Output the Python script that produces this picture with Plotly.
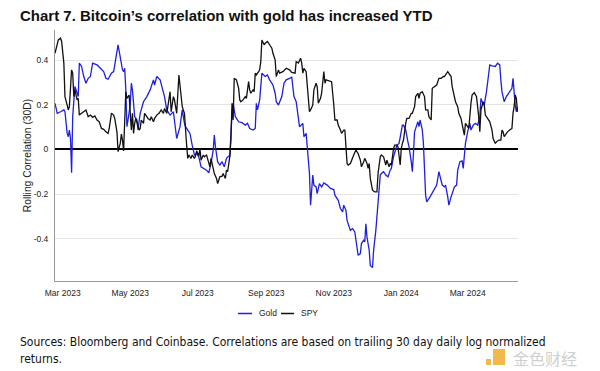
import pandas as pd
import plotly.graph_objects as go

base_date = "2023-03-01"

gold_day = [-7, -5, -2, 1, 2, 4, 5, 6, 7, 8, 9, 11, 13, 14, 15, 17, 19, 21, 23, 25, 27, 31, 34, 37, 39, 41, 44, 46, 50, 52,
            54, 55, 56, 57, 58, 59, 61, 62, 63, 65, 67, 68, 70, 73, 76, 79, 82, 83, 85, 88, 90, 92, 94, 97, 100, 102, 103,
            106, 108, 110, 111, 113, 115, 117, 119, 121, 123, 125, 127, 130, 132, 134, 136, 137, 138, 140, 142, 144, 146,
            148, 150, 151, 153, 154, 156, 157, 159, 162, 165, 167, 169, 172, 174, 175, 176, 178, 180, 183, 185, 187, 190,
            192, 193, 195, 198, 200, 202, 205, 207, 209, 211, 212, 214, 217, 218, 220, 221, 223, 224, 226, 227, 229, 230,
            232, 234, 236, 239, 242, 245, 246, 249, 251, 253, 254, 256, 257, 260, 262, 264, 267, 269, 270, 272, 273, 274,
            275, 277, 278, 280, 281, 283, 284, 286, 287, 288, 290, 292, 294, 296, 297, 299, 301, 302, 304, 305, 307, 308,
            310, 312, 313, 315, 316, 317, 318, 320, 321, 322, 323, 325, 326, 328, 329, 332, 335, 338, 340, 342, 343, 345,
            346, 348, 349, 351, 354, 356, 357, 359, 361, 362, 363, 364, 366, 368, 369, 371, 373, 375, 377, 378, 379, 381,
            383, 385, 386, 388, 391, 393, 395, 396, 397, 399, 401, 404, 406, 407, 408, 409, 410, 411]
gold_corr = [0.207, 0.162, 0.169, 0.177, 0.169, 0.072, 0.057, 0.087, 0.049, -0.105, 0.147, 0.282, 0.252, 0.237, 0.387,
             0.372, 0.327, 0.297, 0.319, 0.327, 0.387, 0.379, 0.364, 0.349, 0.319, 0.315, 0.342, 0.349, 0.469, 0.416,
             0.357, 0.349, 0.364, 0.267, 0.102, 0.132, 0.199, 0.297, 0.267, 0.147, 0.132, 0.087, 0.162, 0.214, 0.237,
             0.267, 0.312, 0.289, 0.327, 0.312, 0.274, 0.237, 0.177, 0.154, 0.169, 0.102, 0.049, 0.102, 0.177, 0.117,
             0.102, 0.087, 0.072, 0.019, -0.025, -0.018, -0.033, -0.078, -0.085, -0.093, -0.105, -0.063, -0.003, 0.064,
             0.012, -0.055, -0.070, -0.055, -0.078, -0.040, -0.030, -0.030, 0.162, 0.207, 0.147, 0.139, 0.124, 0.120,
             0.109, 0.117, 0.094, 0.087, 0.094, 0.207, 0.177, 0.222, 0.342, 0.327, 0.334, 0.312, 0.289, 0.252, 0.214,
             0.199, 0.237, 0.297, 0.312, 0.319, 0.324, 0.237, 0.214, 0.177, 0.102, 0.117, 0.057, 0.072, -0.003, -0.108,
             -0.250, -0.115, -0.160, -0.168, -0.198, -0.153, -0.168, -0.150, -0.160, -0.175, -0.180, -0.205, -0.228,
             -0.265, -0.280, -0.250, -0.273, -0.318, -0.363, -0.355, -0.370, -0.475, -0.467, -0.422, -0.407, -0.415,
             -0.333, -0.393, -0.452, -0.520, -0.530, -0.452, -0.363, -0.295, -0.183, -0.115, -0.108, -0.100, -0.115,
             -0.123, -0.093, -0.085, -0.033, 0.012, 0.019, 0.027, 0.057, 0.109, 0.109, 0.087, 0.034, 0.012, -0.055,
             -0.100, -0.018, 0.079, 0.109, 0.124, 0.102, 0.132, 0.087, 0.027, -0.205, -0.235, -0.213, -0.183, -0.160,
             -0.100, -0.138, -0.160, -0.168, -0.160, -0.213, -0.250, -0.213, -0.168, -0.160, -0.093, -0.055, -0.051,
             -0.085, -0.033, 0.027, 0.079, 0.117, 0.087, 0.109, 0.117, 0.109, 0.147, 0.229, 0.214, 0.199, 0.259, 0.342,
             0.379, 0.375, 0.372, 0.387, 0.379, 0.312, 0.259, 0.214, 0.237, 0.259, 0.274, 0.319, 0.237, 0.199, 0.169,
             0.192]

spy_day = [-7, -5, -4, -2, -1, 1, 2, 4, 5, 6, 8, 9, 10, 11, 13, 14, 15, 17, 19, 21, 23, 25, 27, 29, 31, 33, 35, 37, 39,
           41, 42, 44, 46, 47, 49, 50, 52, 53, 54, 55, 57, 58, 60, 61, 62, 63, 64, 65, 66, 67, 69, 70, 71, 73, 74, 76,
           77, 79, 80, 82, 83, 85, 87, 89, 91, 92, 94, 95, 97, 98, 100, 101, 103, 105, 106, 107, 108, 110, 111, 112, 113,
           114, 116, 117, 119, 120, 121, 123, 124, 125, 127, 128, 130, 132, 133, 134, 136, 137, 139, 140, 141, 142, 144,
           145, 147, 148, 149, 151, 152, 153, 154, 155, 157, 159, 160, 161, 163, 165, 166, 168, 169, 170, 172, 173, 174,
           175, 177, 178, 179, 180, 182, 183, 185, 187, 189, 190, 192, 193, 195, 196, 199, 202, 205, 207, 210, 211, 213,
           215, 216, 217, 218, 220, 221, 223, 224, 226, 227, 229, 230, 231, 233, 234, 236, 237, 238, 240, 243, 245, 246,
           248, 249, 251, 252, 254, 255, 257, 258, 260, 261, 263, 265, 267, 269, 270, 272, 273, 275, 276, 277, 278, 280,
           282, 284, 285, 287, 288, 290, 292, 293, 295, 296, 297, 299, 300, 302, 303, 305, 306, 307, 308, 310, 311, 313,
           315, 316, 318, 319, 321, 322, 323, 325, 327, 328, 330, 331, 333, 334, 336, 338, 340, 342, 344, 345, 348, 349,
           351, 352, 354, 355, 357, 358, 360, 361, 363, 364, 366, 367, 369, 370, 372, 374, 376, 377, 378, 380, 381, 382,
           384, 386, 388, 389, 391, 392, 394, 396, 397, 398, 399, 401, 402, 404, 406, 407, 408, 409, 410, 411]
spy_corr = [0.431, 0.476, 0.491, 0.499, 0.484, 0.387, 0.237, 0.199, 0.177, 0.192, 0.357, 0.342, 0.237, 0.267, 0.222,
            0.229, 0.154, 0.162, 0.169, 0.177, 0.147, 0.154, 0.144, 0.150, 0.132, 0.124, 0.094, 0.090, 0.079, 0.072,
            0.094, 0.162, 0.154, 0.139, 0.079, -0.010, 0.027, 0.069, 0.042, -0.007, 0.259, 0.229, 0.244, 0.184, 0.087,
            0.162, 0.072, 0.117, 0.139, 0.124, 0.087, 0.094, 0.132, 0.117, 0.162, 0.147, 0.139, 0.132, 0.147, 0.124,
            0.139, 0.154, 0.162, 0.177, 0.162, 0.184, 0.162, 0.192, 0.259, 0.169, 0.237, 0.222, 0.162, 0.334, 0.282,
            0.244, 0.192, 0.162, 0.057, 0.019, -0.040, -0.025, -0.040, -0.025, -0.040, -0.030, -0.006, -0.030, 0.004,
            -0.048, -0.025, -0.033, -0.025, -0.055, -0.078, -0.040, -0.093, -0.108, -0.130, -0.153, -0.138, -0.123,
            -0.120, -0.108, -0.130, -0.093, -0.100, -0.033, 0.042, 0.207, 0.132, 0.319, 0.312, 0.274, 0.222, 0.214,
            0.222, 0.237, 0.229, 0.304, 0.267, 0.252, 0.267, 0.259, 0.342, 0.334, 0.349, 0.357, 0.394, 0.491, 0.469,
            0.476, 0.484, 0.469, 0.454, 0.431, 0.401, 0.327, 0.357, 0.342, 0.349, 0.364, 0.357, 0.345, 0.342, 0.394,
            0.387, 0.409, 0.387, 0.342, 0.364, 0.349, 0.282, 0.169, 0.177, 0.199, 0.267, 0.297, 0.282, 0.207, 0.229,
            0.252, 0.349, 0.297, 0.312, 0.309, 0.304, 0.199, 0.132, 0.132, 0.109, 0.087, 0.072, 0.087, 0.087, -0.063,
            -0.070, -0.063, -0.048, -0.025, -0.003, -0.018, -0.048, -0.078, -0.055, -0.040, -0.063, -0.085, -0.063,
            -0.130, -0.183, -0.190, -0.190, -0.108, -0.033, -0.025, -0.033, -0.070, -0.048, -0.078, -0.063, -0.070,
            0.004, 0.019, 0.019, 0.012, -0.070, 0.004, 0.027, 0.042, 0.117, 0.139, 0.139, 0.162, 0.162, 0.192, 0.237,
            0.252, 0.229, 0.252, 0.259, 0.237, 0.177, 0.177, 0.147, 0.132, 0.274, 0.282, 0.289, 0.319, 0.319, 0.327,
            0.327, 0.349, 0.342, 0.327, 0.282, 0.237, 0.214, 0.192, 0.162, 0.139, 0.109, 0.064, 0.117, 0.102, 0.094,
            0.207, 0.244, 0.255, 0.237, 0.147, 0.079, 0.177, 0.214, 0.199, 0.154, 0.139, 0.124, 0.087, 0.049, 0.027,
            0.034, 0.042, 0.042, 0.087, 0.079, 0.057, 0.072, 0.079, 0.087, 0.094, 0.162, 0.192, 0.244, 0.229, 0.169]

series_names = ["Gold", "SPY"]
series_colors = ["#1f1fe0", "#111111"]
y_tick_vals = [-0.4, -0.2, 0, 0.2, 0.4]
y_tick_text = ["-0.4", "-0.2", "0", "0.2", "0.4"]

title_text = "Chart 7. Bitcoin’s correlation with gold has increased YTD"
y_title = "Rolling Correlation (30D)"
caption_lines = ["Sources: Bloomberg and Coinbase. Correlations are based on trailing 30 day daily log normalized",
                 "returns."]
watermark_text = "金色财经"

start = pd.Timestamp(base_date)
gold_dates = [start + pd.Timedelta(days=d) for d in gold_day]
spy_dates = [start + pd.Timedelta(days=d) for d in spy_day]

SANS = "Liberation Sans, Arial, sans-serif"
CAPTION_FONT = "DejaVu Sans Condensed, DejaVu Sans, sans-serif"

fig = go.Figure()
fig.add_trace(go.Scatter(x=gold_dates, y=gold_corr, mode="lines", name=series_names[0],
                         line=dict(color=series_colors[0], width=1.3)))
fig.add_trace(go.Scatter(x=spy_dates, y=spy_corr, mode="lines", name=series_names[1],
                         line=dict(color=series_colors[1], width=1.3)))

# page body has an 8px default margin: the figure is sized to fill the rest of the window
OFF = 8
W, H = 600 - OFF, 371 - OFF
L, R, T, B = 47, 82, 22, 90
PW, PH = W - L - R, H - T - B


def px(xp):
    return (xp - OFF - L) / PW


def py(yp):
    return (H - B - (yp - OFF)) / PH


fig.update_layout(
    width=W, height=H,
    margin=dict(l=L, r=R, t=T, b=B),
    paper_bgcolor="white", plot_bgcolor="white",
    showlegend=False,
    font=dict(family=SANS, color="#222222"),
)
fig.update_xaxes(
    type="date",
    range=["2023-02-22", "2024-04-15 12:00"],
    tick0="2023-03-01", dtick="M2", tickformat="%b %Y",
    showgrid=False, showline=True, linecolor="#9a9a9a", linewidth=1,
    ticks="outside", ticklen=4, tickcolor="rgba(0,0,0,0)",
    tickfont=dict(family=SANS, size=8.5, color="#222222"),
    zeroline=False,
)
fig.update_yaxes(
    range=[-0.59, 0.5356],
    tickvals=y_tick_vals, ticktext=y_tick_text,
    showgrid=True, gridcolor="#e4e4e4", gridwidth=1.2,
    zeroline=True, zerolinecolor="#000000", zerolinewidth=1.5,
    showline=True, linecolor="#9a9a9a", linewidth=1,
    ticks="outside", ticklen=4, tickcolor="rgba(0,0,0,0)",
    tickfont=dict(family=SANS, size=8.5, color="#222222"),
    title=dict(text=y_title, standoff=0, font=dict(family=SANS, size=10.3, color="#222222")),
)

annotations = [
    dict(text="<b>" + title_text + "</b>", x=px(18), y=py(15), xref="paper", yref="paper",
         xanchor="left", yanchor="middle", showarrow=False,
         font=dict(family=SANS, size=15, color="#111111")),
    dict(text=caption_lines[0], x=px(18), y=py(342), xref="paper", yref="paper",
         xanchor="left", yanchor="middle", showarrow=False, align="left",
         font=dict(family=CAPTION_FONT, size=12, color="#111111")),
    dict(text=caption_lines[1], x=px(18), y=py(359), xref="paper", yref="paper",
         xanchor="left", yanchor="middle", showarrow=False, align="left",
         font=dict(family=CAPTION_FONT, size=12, color="#111111")),
    dict(text=series_names[0], x=px(257), y=py(313.5), xref="paper", yref="paper",
         xanchor="left", yanchor="middle", showarrow=False,
         font=dict(family=SANS, size=8.5, color="#222222")),
    dict(text=series_names[1], x=px(299), y=py(313.5), xref="paper", yref="paper",
         xanchor="left", yanchor="middle", showarrow=False,
         font=dict(family=SANS, size=8.5, color="#222222")),
    dict(text=watermark_text, x=px(511), y=py(358), xref="paper", yref="paper",
         xanchor="left", yanchor="middle", showarrow=False,
         font=dict(family="Noto Sans CJK SC, sans-serif", size=16, color="#d0d0d0")),
]
shapes = [
    dict(type="line", xref="paper", yref="paper", x0=px(238), x1=px(252), y0=py(313.5), y1=py(313.5),
         line=dict(color=series_colors[0], width=1.5)),
    dict(type="line", xref="paper", yref="paper", x0=px(281), x1=px(294), y0=py(313.5), y1=py(313.5),
         line=dict(color=series_colors[1], width=1.5)),
    dict(type="rect", xref="paper", yref="paper", x0=px(493), x1=px(505), y0=py(365), y1=py(349),
         fillcolor="#f2b84b", line=dict(width=0)),
    dict(type="rect", xref="paper", yref="paper", x0=px(486), x1=px(491), y0=py(365), y1=py(359),
         fillcolor="#f2b84b", line=dict(width=0)),
]
fig.update_layout(annotations=annotations, shapes=shapes)

fig.write_html("out.html")
